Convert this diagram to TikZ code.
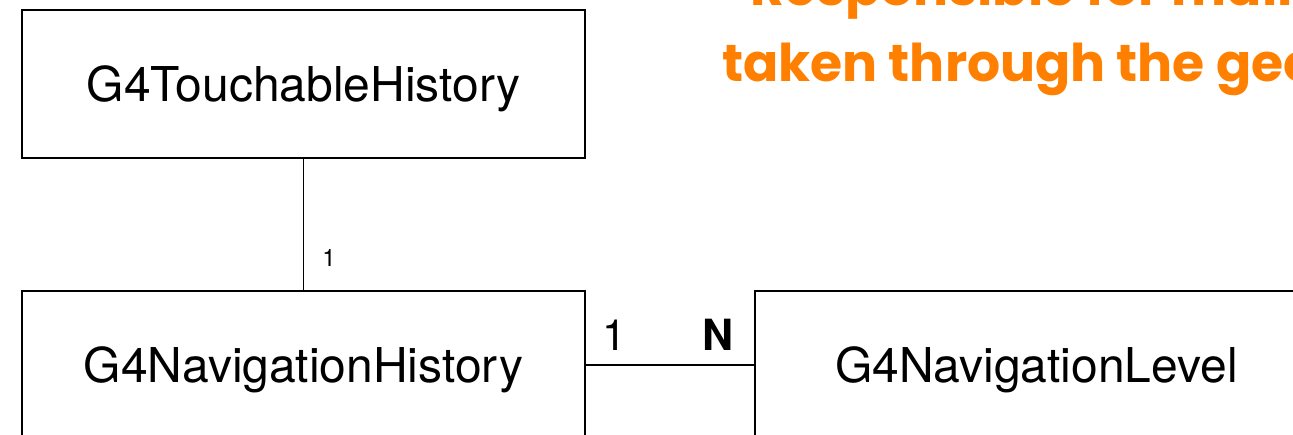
\documentclass[tikz,border=0pt]{standalone}
\usepackage{fontspec}
\setmainfont{TeX Gyre Heros}
\newfontfamily\notefont{Poppins}
\definecolor{noteorange}{RGB}{255,128,0}
\tikzset{
  classbox/.style={draw, line width=1.8pt, minimum width=563pt, minimum height=148pt,
    inner sep=0pt, text depth=0pt, font=\fontsize{48}{57}\selectfont},
  link/.style={line width=1.8pt},
  mult/.style={inner sep=0pt, font=\fontsize{43}{52}\selectfont},
  smallmult/.style={inner sep=0pt, font=\fontsize{24}{29}\selectfont},
  note/.style={inner sep=0pt, anchor=base west, text=noteorange,
    font=\notefont\bfseries\fontsize{52}{62}\selectfont}
}
\begin{document}
\begin{tikzpicture}[x=1pt,y=-1pt]
  \useasboundingbox (0,0) rectangle (1293,435);
  \clip (0,0) rectangle (1293,435);
  \fill[white] (0,0) rectangle (1293,435);

  % classes
  \node[classbox] (touch) at (303.5,84) {G4TouchableHistory};
  \node[classbox] (navhist) at (303.5,365) {G4NavigationHistory};
  \node[classbox] (navlevel) at (1036.5,365) {G4NavigationLevel};

  % associations
  \draw[link] (touch.south) -- (navhist.north);
  \draw[link] (navhist.east) -- (navlevel.west);

  % multiplicities
  \node[smallmult] (m1) at (329,258) {1};
  \node[mult] (m2) at (614,335) {1};
  \node[mult] (m3) at (718,335) {\bfseries N};

  % note
  \node[note] (n1) at (750,6) {Responsible for maintaining};
  \node[note] (n2) at (722,82) {taken through the geometry};
\end{tikzpicture}
\end{document}
